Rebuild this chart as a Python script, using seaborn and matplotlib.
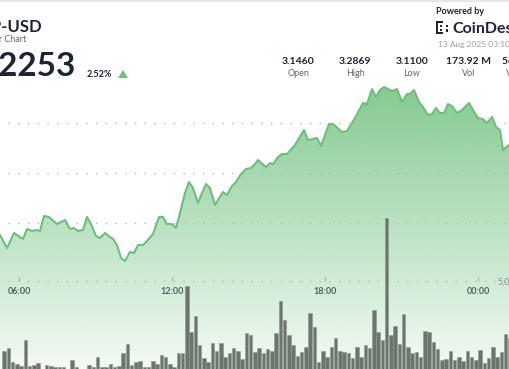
"""
XRP-USD 24시간 차트 재현 (가격 라인 + 10분 거래량 막대)
"""

import numpy as np
import matplotlib
matplotlib.use("Agg")
import matplotlib.pyplot as plt
from matplotlib.colors import to_rgb
from matplotlib.patches import Polygon, Rectangle
import seaborn as sns

# 가격 라인 (06:00 기준 경과 시간, USD)
price_hours = [
    -0.745, -0.471, -0.196, 0.157, 0.314, 0.510, 0.667, 0.824, 0.980, 1.176,
    1.490, 1.804, 2.000, 2.157, 2.314, 2.510, 2.667, 2.824, 3.020, 3.176,
    3.373, 3.569, 3.686, 3.843, 4.000, 4.157, 4.353, 4.510, 4.667, 4.863,
    5.020, 5.255, 5.490, 5.647, 5.804, 6.000, 6.157, 6.314, 6.510, 6.667,
    6.824, 7.020, 7.176, 7.333, 7.490, 7.686, 8.000, 8.157, 8.353, 8.510,
    8.706, 8.902, 9.098, 9.255, 9.373, 9.686, 9.843, 9.961, 10.157, 10.314,
    10.510, 10.824, 11.176, 11.333, 11.686, 11.843, 12.157, 12.314, 12.667, 12.863,
    13.176, 13.490, 13.647, 13.843, 14.000, 14.157, 14.314, 14.627, 14.824, 15.020,
    15.216, 15.333, 15.490, 15.686, 15.843, 16.039, 16.196, 16.353, 16.510, 16.667,
    16.824, 16.980, 17.176, 17.373, 17.647, 17.804, 18.000, 18.196, 18.353, 18.549,
    18.706, 18.863, 18.980, 19.255,
]
price_usd = [
    3.138, 3.125, 3.140, 3.134, 3.144, 3.142, 3.143, 3.142, 3.157, 3.156,
    3.149, 3.153, 3.144, 3.145, 3.142, 3.143, 3.156, 3.149, 3.137, 3.135,
    3.140, 3.136, 3.134, 3.128, 3.115, 3.112, 3.121, 3.120, 3.128, 3.128,
    3.132, 3.139, 3.156, 3.156, 3.149, 3.149, 3.145, 3.160, 3.180, 3.191,
    3.185, 3.170, 3.180, 3.189, 3.185, 3.168, 3.181, 3.178, 3.187, 3.191,
    3.199, 3.204, 3.205, 3.209, 3.213, 3.206, 3.210, 3.209, 3.216, 3.219,
    3.219, 3.228, 3.243, 3.233, 3.235, 3.227, 3.249, 3.249, 3.241, 3.242,
    3.255, 3.270, 3.269, 3.284, 3.276, 3.283, 3.286, 3.282, 3.284, 3.271,
    3.279, 3.279, 3.283, 3.271, 3.266, 3.258, 3.259, 3.265, 3.260, 3.260,
    3.269, 3.267, 3.260, 3.263, 3.270, 3.263, 3.255, 3.254, 3.250, 3.256,
    3.246, 3.243, 3.223, 3.229,
]

# 10분 단위 거래량 (백만 XRP)
volume_m = [
    1.15, 1.32, 0.55, 0.44, 0.33, 1.76, 0.33, 0.38, 0.49, 0.11,
    0.38, 0.33, 0.27, 0.27, 0.27, 0.05, 0.66, 0.27, 0.05, 0.05,
    0.38, 0.27, 0.82, 0.27, 0.27, 0.44, 0.27, 0.33, 1.04, 1.54,
    0.38, 0.55, 0.60, 0.27, 0.27, 0.60, 0.44, 0.93, 0.82, 0.44,
    0.27, 1.04, 1.04, 4.73, 2.20, 3.08, 1.48, 0.77, 0.55, 1.59,
    1.15, 1.59, 0.82, 1.04, 1.32, 1.15, 0.71, 2.14, 2.03, 1.10,
    1.32, 1.04, 1.26, 1.15, 2.14, 3.90, 2.86, 2.03, 1.48, 0.88,
    1.10, 1.37, 3.24, 2.47, 0.55, 1.15, 0.82, 1.37, 1.87, 1.15,
    1.10, 1.04, 0.77, 1.37, 0.82, 1.48, 1.32, 3.41, 2.20, 1.76,
    8.46, 2.03, 2.53, 1.54, 3.19, 1.37, 1.04, 1.10, 0.82, 2.25,
    2.20, 1.65, 1.26, 0.66, 0.71, 1.15, 0.66, 0.82, 0.60, 1.15,
    0.82, 0.66, 1.21, 0.49, 0.77, 1.37, 0.82, 1.10, 2.09, 1.87,
    1.37,
]
vol_start_hour = -35 / 60  # 05:25 봉부터 10분 간격

time_ticks = [0, 6, 12, 18]
time_labels = ["06:00", "12:00", "18:00", "00:00"]
price_grid = [3.15, 3.20, 3.25]
vol_grid = 5.0

stat_values = ["3.1460", "3.2869", "3.1100", "173.92 M", "564.51 M"]
stat_names = ["Open", "High", "Low", "Vol", "Vol (USD)"]


def main():
    sns.set_theme(style="white")
    plt.rcParams["font.family"] = ["Lato", "DejaVu Sans"]

    W, H = 510, 369
    fig = plt.figure(figsize=(W / 100, H / 100), dpi=100)
    fig.patch.set_facecolor("white")

    def fx(x):
        return x / W

    def fy(y):
        return 1 - y / H

    dark = "#1d2433"
    gray = "#5f6570"
    green = "#6cc07c"

    # 헤더 (원본 이미지처럼 왼쪽/오른쪽이 잘려 있음)
    fig.add_artist(Rectangle((0, fy(2)), 1, 2 / H, transform=fig.transFigure,
                             color="#e6e6e6", lw=0))
    fig.text(fx(43), fy(31.5), "XRP-USD", fontsize=12, fontweight="bold",
             color=dark, ha="right", va="baseline")
    fig.text(fx(26), fy(41.5), "24 Hour Chart", fontsize=6.5, color=gray,
             ha="right", va="baseline")
    fig.text(fx(76), fy(75.5), "3.2253", fontsize=24, fontweight="bold",
             color=dark, ha="right", va="baseline")
    fig.text(fx(87), fy(77), "2.52%", fontsize=6.5, fontweight="bold",
             color=dark, ha="left", va="baseline")
    fig.add_artist(Polygon([(fx(118), fy(78)), (fx(128), fy(78)), (fx(123), fy(70))],
                           closed=True, transform=fig.transFigure, color=green, lw=0))

    fig.text(fx(436), fy(13.5), "Powered by", fontsize=6.5, fontweight="bold",
             color=dark, ha="left", va="baseline")
    # CoinDesk 로고 아이콘 (대략)
    for (x0, y0, w, h) in [(436, 21, 2.2, 13), (436, 21, 7, 2.2), (436, 31.8, 7, 2.2),
                           (440, 25, 2.2, 2.2), (440, 28.8, 2.2, 2.2),
                           (446, 24.5, 2.5, 2.5), (446, 29, 2.5, 2.5)]:
        fig.add_artist(Rectangle((fx(x0), fy(y0 + h)), w / W, h / H,
                                 transform=fig.transFigure, color=dark, lw=0))
    fig.text(fx(452), fy(33), "CoinDesk", fontsize=11.5, fontweight="bold",
             color=dark, ha="left", va="baseline")
    fig.text(fx(438), fy(46.7), "13 Aug 2025 03:10 UTC", fontsize=6,
             color="#9a9fa8", ha="left", va="baseline")

    for i, (v, n) in enumerate(zip(stat_values, stat_names)):
        cx = 298.5 + 56.6 * i
        fig.text(fx(cx), fy(64), v, fontsize=7.5, fontweight="bold", color=dark,
                 ha="center", va="baseline")
        fig.text(fx(cx), fy(75.5), n, fontsize=6.5, color=gray,
                 ha="center", va="baseline")

    # 차트 영역
    top_px = 80
    ax = fig.add_axes([0, 0, 1, (H - top_px) / H])
    xmin, xmax = -0.745, 19.255
    ylo, yhi = 3.004, 3.293

    # 그라데이션 채우기
    grad = np.zeros((256, 1, 4))
    grad[..., :3] = to_rgb(green)
    grad[..., 3] = np.linspace(0.85, 0.08, 256)[:, None]
    im = ax.imshow(grad, extent=[xmin, xmax, ylo, yhi], aspect="auto",
                   origin="upper", zorder=1, interpolation="bilinear")
    poly = ax.fill_between(price_hours, price_usd, ylo, color="none", lw=0)
    im.set_clip_path(poly.get_paths()[0], transform=ax.transData)

    for g in price_grid:
        ax.axhline(g, xmin=0.016, xmax=1, color="#b5b5b5", lw=1,
                   ls=(0, (1, 6)), zorder=2)

    sns.lineplot(x=price_hours, y=price_usd, ax=ax, color=green, lw=1.5,
                 zorder=3, errorbar=None)

    ax.set_xlim(xmin, xmax)
    ax.set_ylim(ylo, yhi)
    ax.set_xlabel("")
    ax.set_ylabel("")
    ax.set_yticks([])
    for s in ax.spines.values():
        s.set_visible(False)
    ax.spines["bottom"].set_position(("axes", (H - 281) / (H - top_px)))
    ax.set_xticks(time_ticks, time_labels)
    ax.tick_params(axis="x", direction="in", length=3, width=0.8,
                   color="#b0b0b0", pad=4.5, labelsize=6.5, labelcolor="#3b4150",
                   bottom=True)
    for t in ax.get_xticklabels():
        t.set_fontweight("bold")
    ax.patch.set_visible(False)

    # 거래량 막대
    ax_v = ax.twinx()
    bar_hours = vol_start_hour + np.arange(len(volume_m)) / 6
    sns.barplot(x=bar_hours, y=volume_m, native_scale=True, width=0.8,
                color="#6b756b", edgecolor="#8e978e", linewidth=0.4,
                saturation=1, errorbar=None, ax=ax_v, zorder=2)
    ax_v.axhline(vol_grid, xmin=0.016, xmax=1, color="#b5b5b5", lw=1,
                 ls=(0, (1, 6)), zorder=1)
    ax_v.set_ylim(0.17, 16.05)
    ax_v.set_xlim(xmin, xmax)
    ax_v.set_yticks([])
    ax_v.set_xlabel("")
    ax_v.set_ylabel("")
    for s in ax_v.spines.values():
        s.set_visible(False)
    ax.set_xlim(xmin, xmax)
    fig.text(fx(498), fy(282), "5,000,000", fontsize=6.5, color="#8a8f98",
             ha="left", va="center")

    fig.savefig("out.png", dpi=100)
    plt.close(fig)


if __name__ == "__main__":
    main()
